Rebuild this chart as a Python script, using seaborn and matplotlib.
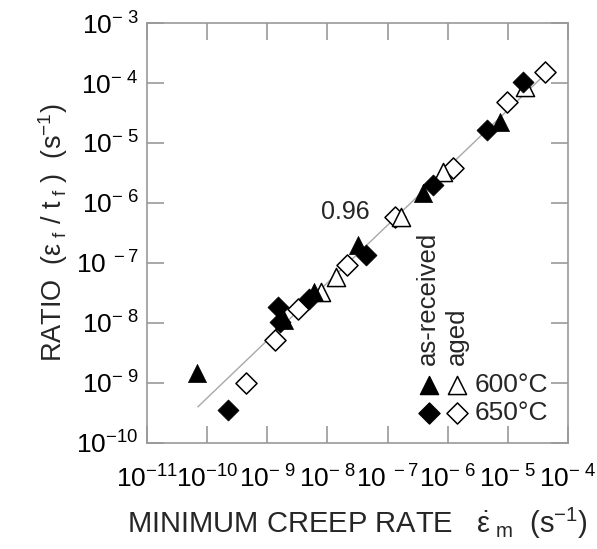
import numpy as np
import pandas as pd
import matplotlib
matplotlib.use("Agg")
import matplotlib.pyplot as plt
import seaborn as sns

sns.set_theme(style="ticks")
plt.rcParams['font.family'] = ['Liberation Sans', 'DejaVu Sans']
plt.rcParams['mathtext.fontset'] = 'custom'
plt.rcParams['mathtext.rm'] = 'Liberation Sans'
plt.rcParams['mathtext.it'] = 'Liberation Sans:italic'
plt.rcParams['mathtext.default'] = 'regular'

# ---- data ----
ar600_rate  = [6.9e-11, 1.9e-9, 5.9e-9, 3.2e-8, 3.9e-7, 7.4e-6]
ar600_ratio = [1.45e-9, 1.12e-8, 3.3e-8, 2.0e-7, 1.45e-6, 2.24e-5]

ar650_rate  = [2.2e-10, 1.48e-9, 1.62e-9, 5.0e-9, 4.4e-8, 5.75e-7, 4.5e-6, 1.82e-5]
ar650_ratio = [3.6e-10, 1.82e-8, 1.05e-8, 2.5e-8, 1.35e-7, 2.0e-6, 1.66e-5, 1.05e-4]

ag600_rate  = [7.9e-9, 1.41e-8, 1.7e-7, 8.5e-7, 1.95e-5]
ag600_ratio = [3.3e-8, 5.9e-8, 5.9e-7, 3.3e-6, 8.7e-5]

ag650_rate  = [4.5e-10, 1.35e-9, 3.3e-9, 2.1e-8, 1.32e-7, 1.23e-6, 9.5e-6, 4.2e-5]
ag650_ratio = [1.0e-9, 5.25e-9, 1.74e-8, 9.3e-8, 5.9e-7, 3.8e-6, 4.9e-5, 1.55e-4]

fit_slope = 0.96
fit_coef = 2.24
fit_range = [7e-11, 4.5e-5]

x_ticks = [1e-11, 1e-10, 1e-9, 1e-8, 1e-7, 1e-6, 1e-5, 1e-4]
x_tick_labels = [r'10$^{-11}$', r'10$^{-10}$', r'10$^{-\ 9}$', r'10$^{-\ 8}$',
                 r'10$^{\ -7}$', r'10$^{-\ 6}$', r'10$^{-\ 5}$', r'10$^{-\ 4}$']
y_ticks = [1e-10, 1e-9, 1e-8, 1e-7, 1e-6, 1e-5, 1e-4, 1e-3]
y_tick_labels = [r'10$^{-10}$', r'10$^{-\ 9}$', r'10$^{-\ 8}$', r'10$^{\ -7}$',
                 r'10$^{-\ 6}$', r'10$^{-\ 5}$', r'10$^{-\ 4}$', r'10$^{-\ 3}$']

# ---- figure ----
fig = plt.figure(figsize=(5.97, 5.49), dpi=100)
ax = fig.add_axes([0.2462, 0.1931, 0.7052, 0.765])

# fit line
fx = np.logspace(np.log10(fit_range[0]), np.log10(fit_range[1]), 50)
fy = fit_coef * fx ** fit_slope
sns.lineplot(x=fx, y=fy, ax=ax, color='#a8a8a8', linewidth=1.0, zorder=1)

tri_s = 170
dia_s = 115
sns.scatterplot(x=ag650_rate, y=ag650_ratio, ax=ax, marker='D', s=dia_s,
                facecolor='white', edgecolor='black', linewidth=1.1, zorder=3)
sns.scatterplot(x=ag600_rate, y=ag600_ratio, ax=ax, marker='^', s=tri_s,
                facecolor='white', edgecolor='black', linewidth=1.1, zorder=3)
sns.scatterplot(x=ar650_rate, y=ar650_ratio, ax=ax, marker='D', s=dia_s,
                color='black', edgecolor='black', linewidth=0.5, zorder=4)
sns.scatterplot(x=ar600_rate, y=ar600_ratio, ax=ax, marker='^', s=tri_s,
                color='black', edgecolor='black', linewidth=0.5, zorder=4)

ax.set_xscale('log')
ax.set_yscale('log')
ax.set_xlim(1e-11, 1e-4)
ax.set_ylim(1e-10, 1e-3)
ax.set_xticks(x_ticks)
ax.set_xticklabels(x_tick_labels)
ax.set_yticks(y_ticks)
ax.set_yticklabels(y_tick_labels)
ax.minorticks_off()

spine_col = '#999999'
for sp in ax.spines.values():
    sp.set_visible(True)
    sp.set_color(spine_col)
    sp.set_linewidth(1.2)
ax.tick_params(axis='both', which='major', direction='in', length=12.5,
               width=1.2, color=spine_col, top=True, right=True,
               labelsize=19, labelcolor='black')
ax.tick_params(axis='x', pad=16)
ax.tick_params(axis='y', pad=6)

ax.set_xlabel(r'MINIMUM CREEP RATE   $\dot{\varepsilon}_{\ m}$  (s$^{-1}$)',
              fontsize=21, labelpad=10)
ax.set_ylabel(r'RATIO  ($\varepsilon_{\ f}$ / t$_{\ f}$ )  (s$^{-1}$)',
              fontsize=19.5, labelpad=4)

# annotation
ax.text(0.530, 0.55, '0.96', transform=ax.transAxes, ha='right', va='center',
        fontsize=18)

# custom legend
ax.text(0.667, 0.186, 'as-received', transform=ax.transAxes, rotation=90,
        ha='center', va='bottom', fontsize=18.5)
ax.text(0.736, 0.186, 'aged', transform=ax.transAxes, rotation=90,
        ha='center', va='bottom', fontsize=18.5)
ax.scatter([0.670], [0.138], transform=ax.transAxes, marker='^', s=tri_s,
           color='black', zorder=5)
ax.scatter([0.736], [0.138], transform=ax.transAxes, marker='^', s=tri_s,
           facecolor='white', edgecolor='black', linewidth=1.1, zorder=5)
ax.scatter([0.670], [0.0714], transform=ax.transAxes, marker='D', s=dia_s,
           color='black', zorder=5)
ax.scatter([0.736], [0.0714], transform=ax.transAxes, marker='D', s=dia_s,
           facecolor='white', edgecolor='black', linewidth=1.1, zorder=5)
ax.text(0.779, 0.138, '600°C', transform=ax.transAxes, ha='left', va='center',
        fontsize=19)
ax.text(0.779, 0.0714, '650°C', transform=ax.transAxes, ha='left', va='center',
        fontsize=19)

fig.savefig('out.png', dpi=100)
